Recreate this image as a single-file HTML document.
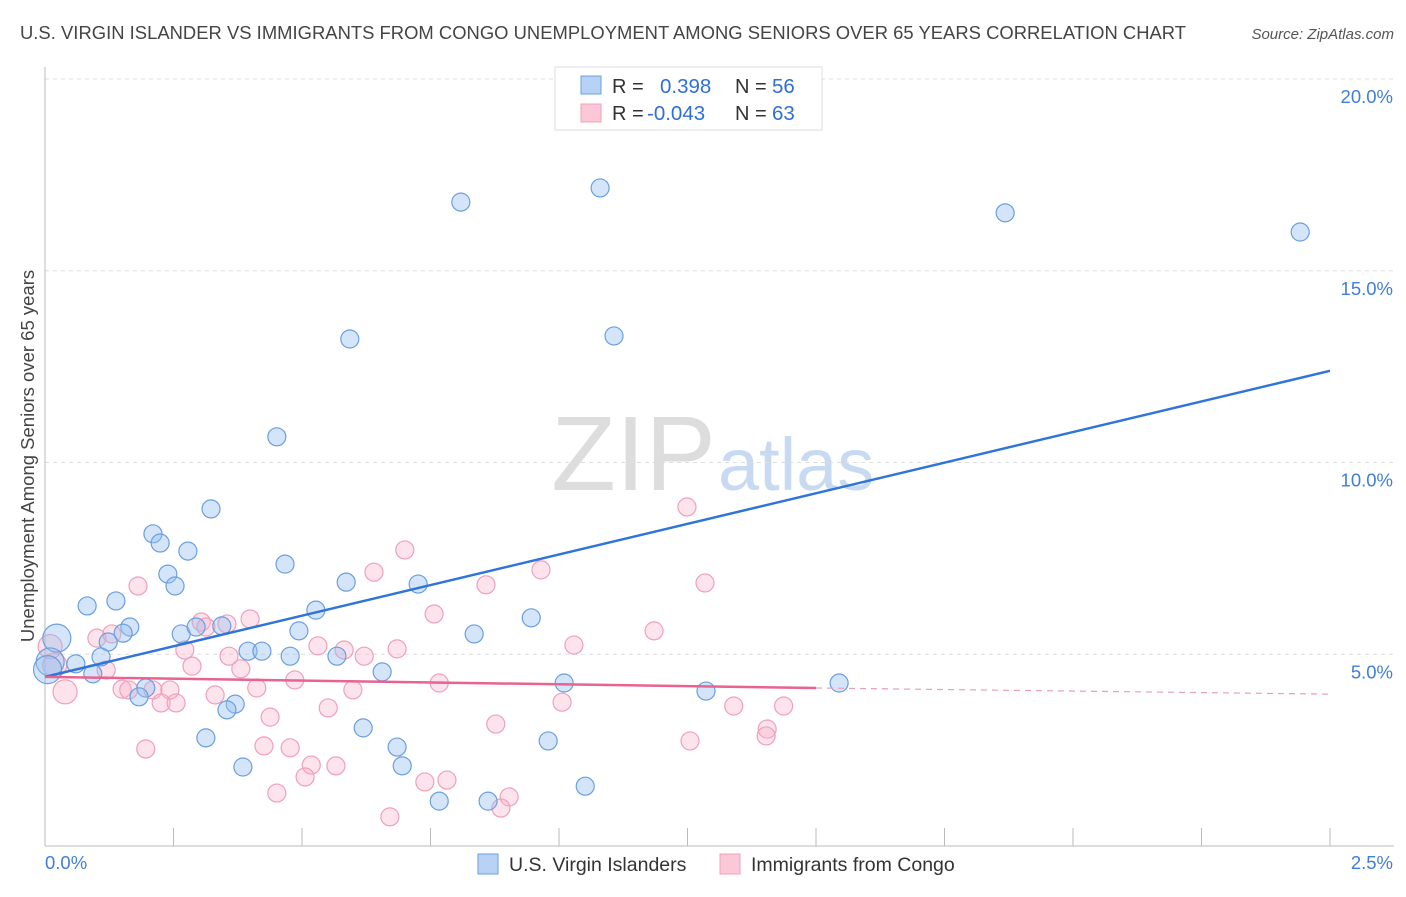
<!DOCTYPE html>
<html><head><meta charset="utf-8">
<style>
body{margin:0;background:#fff;font-family:"Liberation Sans",sans-serif;}
svg text{font-family:"Liberation Sans",sans-serif;}
</style></head>
<body>
<svg id="c" width="1406" height="892">
<text x="20" y="39" font-size="18.4" fill="#444" textLength="1166">U.S. VIRGIN ISLANDER VS IMMIGRANTS FROM CONGO UNEMPLOYMENT AMONG SENIORS OVER 65 YEARS CORRELATION CHART</text>
<text x="1394" y="39" font-size="15" fill="#555" font-style="italic" text-anchor="end">Source: ZipAtlas.com</text>
<text x="716" y="490" font-size="106" fill="#ddd" text-anchor="end" font-family="Liberation Serif">ZIP</text>
<text x="718" y="490" font-size="74" fill="#c8daf2">atlas</text>
<g id="grid"></g>
<g id="pts"></g>
<g id="lines"></g>
<text transform="translate(34,456) rotate(-90)" font-size="18.5" fill="#444" text-anchor="middle">Unemployment Among Seniors over 65 years</text>
<g>
<rect x="555" y="67" width="267" height="63" fill="#fff" stroke="#ddd"/>
<rect x="581" y="76" width="20" height="18" fill="#b8d2f5" stroke="#6a9fe0"/>
<rect x="581" y="104" width="20" height="18" fill="#fcc8d8" stroke="#f0a0b8"/>
<text x="612" y="93" font-size="20" fill="#333">R = </text><text x="660" y="93" font-size="20.5" fill="#2f6fd6">0.398</text>
<text x="735" y="93" font-size="20" fill="#333">N = </text><text x="772" y="93" font-size="20.5" fill="#2f6fd6">56</text>
<text x="612" y="120" font-size="20" fill="#333">R = </text><text x="647" y="120" font-size="20.5" fill="#2f6fd6">-0.043</text>
<text x="735" y="120" font-size="20" fill="#333">N = </text><text x="772" y="120" font-size="20.5" fill="#2f6fd6">63</text>
</g>
<g>
<rect x="478" y="854" width="20" height="20" fill="#b8d2f5" stroke="#6a9fe0"/>
<text x="509" y="871" font-size="19.5" fill="#333">U.S. Virgin Islanders</text>
<rect x="720" y="854" width="20" height="20" fill="#fcc8d8" stroke="#f0a0b8"/>
<text x="751" y="871" font-size="19.5" fill="#333">Immigrants from Congo</text>
</g>
</svg>
<script>
const xTicks=[0,0.25,0.5,0.75,1,1.25,1.5,1.75,2,2.25,2.5];
const yTicks=[5,10,15,20];
const blueX=[0.809,1.080,1.868,2.442,0.593,1.107,0.451,0.323,0.210,0.224,0.278,0.239,0.253,0.467,0.586,0.726,0.082,0.138,0.527,0.946,0.165,0.152,0.265,0.294,0.344,0.494,0.835,0.123,0.395,0.422,0.477,0.568,0.109,0.060,0.093,0.656,0.196,0.183,0.370,0.354,1.010,1.286,1.545,0.313,0.619,0.979,0.685,0.695,0.385,0.767,0.862,1.051];
const blueY=[16.79,17.16,16.51,16.01,13.22,13.30,10.67,8.79,8.14,7.90,7.69,7.09,6.78,7.35,6.88,6.83,6.26,6.39,6.15,5.95,5.71,5.55,5.53,5.71,5.74,5.61,5.53,5.32,5.08,5.08,4.95,4.95,4.93,4.75,4.49,4.54,4.12,3.89,3.70,3.55,4.25,4.04,4.25,2.82,3.08,2.74,2.58,2.09,2.06,1.17,1.17,1.56];
const blueBigX=[0.023,0.010,0.005];
const blueBigY=[5.42,4.80,4.60];
const pinkX=[1.249,0.700,0.640,0.965,0.858,1.284,0.181,0.757,0.399,0.354,0.304,0.313,1.185,1.029,0.101,0.130,0.531,0.582,0.685,0.272,0.621,0.358,0.286,0.381,0.119,0.486,0.767,0.150,0.163,0.210,0.243,0.412,0.599,0.331,0.226,0.255,1.006,0.551,0.438,1.340,1.437,0.877,1.405,1.403,1.255,0.196,0.426,0.477,0.518,0.566,0.506,0.739,0.782,0.451,0.903,0.887,0.671];
const pinkY=[8.84,7.72,7.14,7.20,6.81,6.86,6.78,6.05,5.92,5.79,5.84,5.71,5.61,5.24,5.42,5.53,5.22,5.11,5.14,5.11,4.95,4.95,4.69,4.62,4.59,4.33,4.25,4.09,4.07,4.07,4.07,4.12,4.07,3.94,3.73,3.73,3.75,3.60,3.36,3.65,3.65,3.18,3.05,2.87,2.74,2.53,2.61,2.56,2.11,2.09,1.80,1.67,1.72,1.38,1.28,0.99,0.76];
const pinkBigX=[0.019,0.010,0.039];
const pinkBigY=[4.72,5.20,4.02];
const blueTrend=[4.41,12.39];
const pinkTrend=[4.41,4.12,3.96];
const X=v=>45+v*514, Y=v=>846-v*38.35;
const NS='http://www.w3.org/2000/svg';
function mk(t,a,p){const e=document.createElementNS(NS,t);for(const k in a)e.setAttribute(k,a[k]);p.appendChild(e);return e;}
const g=document.getElementById('grid');
yTicks.forEach(t=>{const l=mk('line',{x1:45,x2:1394,y1:Y(t),y2:Y(t),stroke:'#ddd','stroke-dasharray':'4,4'},g);


const tx=mk('text',{x:1393,y:Y(t)+24,'font-size':18.5,fill:'#3f7fd9','text-anchor':'end'},g);tx.textContent=t.toFixed(1)+'%';

});
const ax=mk('line',{x1:45,x2:45,y1:67,y2:846,stroke:'#bbb'},g);


const bx=mk('line',{x1:45,x2:1394,y1:846,y2:846,stroke:'#bbb'},g);


xTicks.forEach(t=>{const l=mk('line',{x1:X(t),x2:X(t),y1:828,y2:846,stroke:'#bbb'},g);

});
[[0,'start',45],[2.5,'end',1393]].forEach(([t,a,x])=>{const tx=mk('text',{x:x,y:869,'font-size':18.5,fill:'#3f7fd9','text-anchor':a},g);tx.textContent=t.toFixed(1)+'%';

});
const p=document.getElementById('pts');
function dots(xs,ys,r,fill,stroke,name){xs.forEach((v,i)=>{const c=mk('circle',{cx:X(v),cy:Y(ys[i]),r:r,fill:fill,stroke:stroke,'stroke-width':1.2},p);

});}
dots(pinkX,pinkY,9,'rgba(248,175,200,0.35)','#f0a0b8','congo-point');
dots(pinkBigX,pinkBigY,12,'rgba(248,175,200,0.35)','#f0a0b8','congo-point');
dots(blueBigX,blueBigY,14,'rgba(150,190,240,0.4)','#6a9fe0','virgin-islander-point');
dots(blueX,blueY,9,'rgba(150,190,240,0.4)','#6a9fe0','virgin-islander-point');
const L=document.getElementById('lines');
const b=mk('line',{x1:X(0),y1:Y(blueTrend[0]),x2:X(2.5),y2:Y(blueTrend[1]),stroke:'#2f74d8','stroke-width':2.5},L);


const pk=mk('line',{x1:X(0),y1:Y(pinkTrend[0]),x2:X(1.5),y2:Y(pinkTrend[1]),stroke:'#e8638f','stroke-width':2.5},L);


const pd=mk('line',{x1:X(1.5),y1:Y(pinkTrend[1]),x2:X(2.5),y2:Y(pinkTrend[2]),stroke:'#e8a0b8','stroke-width':1.2,'stroke-dasharray':'6,5'},L);


</script>
</body></html>
